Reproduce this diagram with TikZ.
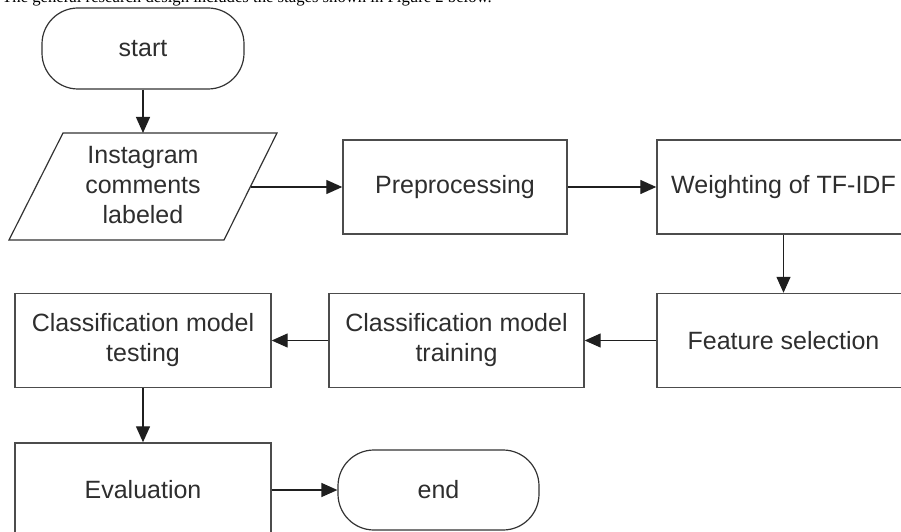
\documentclass[tikz,border=0pt]{standalone}
\usepackage{fontspec}
\setmainfont{Liberation Sans}
\newfontfamily\introfont{Liberation Serif}
\usetikzlibrary{arrows.meta}
\begin{document}
\begin{tikzpicture}[x=1pt,y=1pt,
  every node/.style={font=\fontsize{25}{30}\selectfont, text=black!82},
  box/.style={draw=black!70, line width=1.4pt, minimum width=#1, minimum height=94pt, inner sep=0pt, align=center},
  term/.style={draw=black!80, line width=1.2pt, rounded corners=36pt, minimum width=#1, minimum height=81pt, inner sep=0pt},
  iobox/.style={draw=black!80, line width=1.2pt},
  conn/.style={draw=black!88, line width=1.3pt, -{Triangle[length=16pt,width=14pt]}},
]
\path[use as bounding box] (0,0) rectangle (901,531);
\begin{scope}
\clip (0,0) rectangle (901,531);
\node[font=\fontsize{16.7}{20}\introfont, text=black, anchor=base east, inner sep=0pt] (intro) at (492,528) {The general research design includes the stages shown in Figure 2 below.};

\node[term=202pt] (start) at (143,482.5) {start};

\draw[iobox] (63,398) -- (277,398) -- (224,291) -- (9,291) -- cycle;
\coordinate (inpN) at (143,398);
\coordinate (inpE) at (250.5,344);
\node[align=center, inner sep=0pt] (inp) at (143,346) {Instagram\\comments\\labeled};

\node[box=224pt] (prep) at (455,344) {Preprocessing};
\node[box=253pt] (weight) at (783.5,344) {Weighting of TF-IDF};
\node[box=253pt] (feat) at (783.5,190.5) {Feature selection};
\node[box=255pt] (train) at (456.5,190.5) {Classification model\\training};
\node[box=256pt] (test) at (143,190.5) {Classification model\\testing};
\node[box=256pt] (eval) at (143,41) {Evaluation};
\node[term=201pt, minimum height=80pt] (stop) at (438.5,41) {end};

\draw[conn] (start) -- (inpN);
\draw[conn] (inpE) -- (prep);
\draw[conn] (prep) -- (weight);
\draw[conn] (weight) -- (feat);
\draw[conn] (feat) -- (train);
\draw[conn] (train) -- (test);
\draw[conn] (test) -- (eval);
\draw[conn] (eval) -- (stop);
\end{scope}
\end{tikzpicture}
\end{document}
